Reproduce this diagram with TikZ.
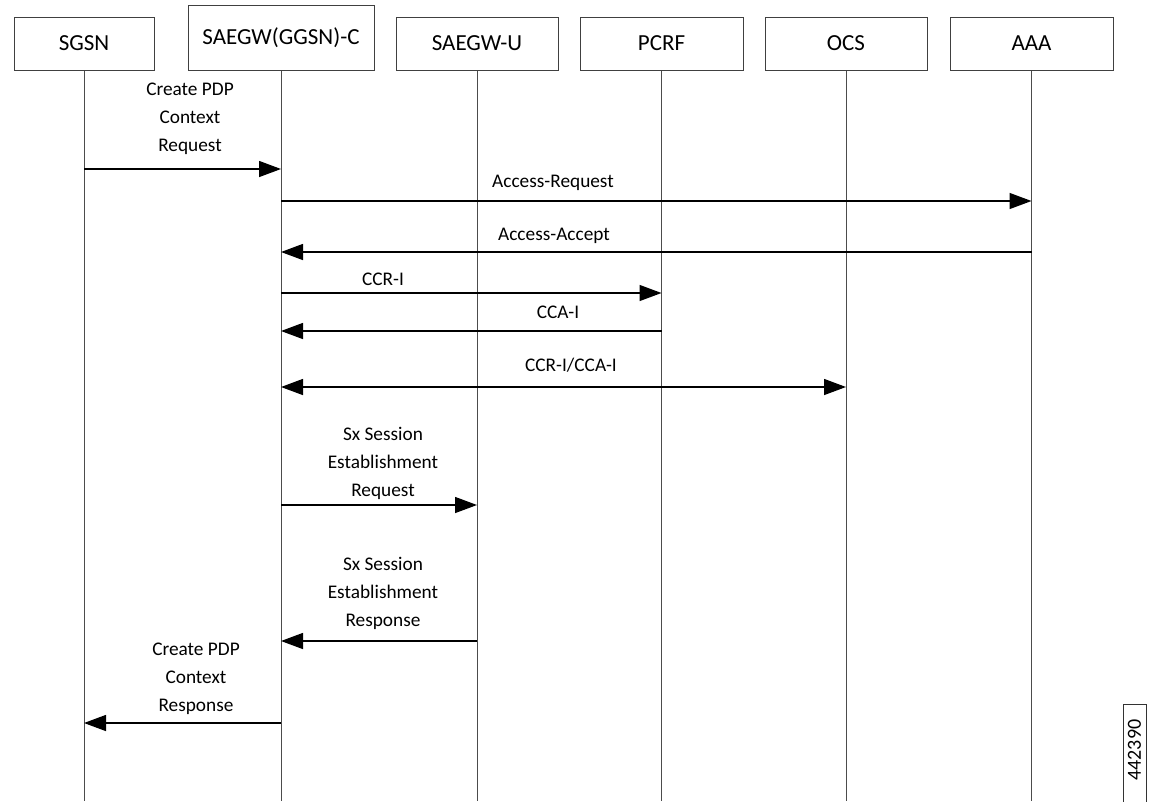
\documentclass[tikz,border=0pt]{standalone}
\usepackage{fontspec}
\setmainfont{Carlito}
\usetikzlibrary{arrows.meta}
\begin{document}
\begin{tikzpicture}[x=1pt,y=-1pt,
  actor/.style={draw=black!75, line width=1pt, fill=white, minimum height=53, inner sep=0pt, font=\fontsize{23}{26}\selectfont},
  life/.style={draw=black!70, line width=1pt},
  msg/.style={draw=black, line width=1.4pt, -{Triangle[length=22pt,width=16pt]}},
  dmsg/.style={draw=black, line width=1.4pt, {Triangle[length=22pt,width=16pt]}-{Triangle[length=22pt,width=16pt]}},
  lbl/.style={align=center, inner sep=0pt, font=\fontsize{19.3}{28}\selectfont}]
\useasboundingbox (0,0) rectangle (1159,801);
\fill[white] (0,0) rectangle (1159,801);
% actors
\node[actor, minimum width=140] (sgsn) at (84,43.5) {SGSN};
\node[actor, minimum width=186, minimum height=65] (gwc) at (281,37.5) {SAEGW(GGSN)-C};
\node[actor, minimum width=162] (gwu) at (477,43.5) {SAEGW-U};
\node[actor, minimum width=163] (pcrf) at (661.5,43.5) {PCRF};
\node[actor, minimum width=162] (ocs) at (846,43.5) {OCS};
\node[actor, minimum width=163] (aaa) at (1031.5,43.5) {AAA};
% lifelines
\foreach \n in {sgsn,gwc,gwu,pcrf,ocs,aaa}
  \draw[life] (\n.south) -- (\n.south |- 0,801);
% messages
\draw[msg] (sgsn |- 0,169) -- (gwc |- 0,169);
\node[lbl] (m1) at (190,119) {Create PDP\\Context\\Request};
\draw[msg] (gwc |- 0,201) -- (aaa |- 0,201);
\node[lbl] (m2) at (553,183) {Access-Request};
\draw[msg] (aaa |- 0,252) -- (gwc |- 0,252);
\node[lbl] (m3) at (554,236) {Access-Accept};
\draw[msg] (gwc |- 0,293) -- (pcrf |- 0,293);
\node[lbl] (m4) at (383,279) {CCR-I};
\draw[msg] (pcrf |- 0,331) -- (gwc |- 0,331);
\node[lbl] (m5) at (558,312) {CCA-I};
\draw[dmsg] (gwc |- 0,387) -- (ocs |- 0,387);
\node[lbl] (m6) at (571,365) {CCR-I/CCA-I};
\draw[msg] (gwc |- 0,505) -- (gwu |- 0,505);
\node[lbl] (m7) at (383,463) {Sx Session\\Establishment\\Request};
\draw[msg] (gwu |- 0,641) -- (gwc |- 0,641);
\node[lbl] (m8) at (383,593) {Sx Session\\Establishment\\Response};
\draw[msg] (gwc |- 0,723) -- (sgsn |- 0,723);
\node[lbl] (m9) at (196,679) {Create PDP\\Context\\Response};
% figure number
\draw[draw=black!80, line width=0.8pt] (1123,704) rectangle (1146,812);
\node[rotate=90, inner sep=0pt, font=\fontsize{20}{22}\selectfont] (fig) at (1134.5,750) {442390};
\end{tikzpicture}
\end{document}
